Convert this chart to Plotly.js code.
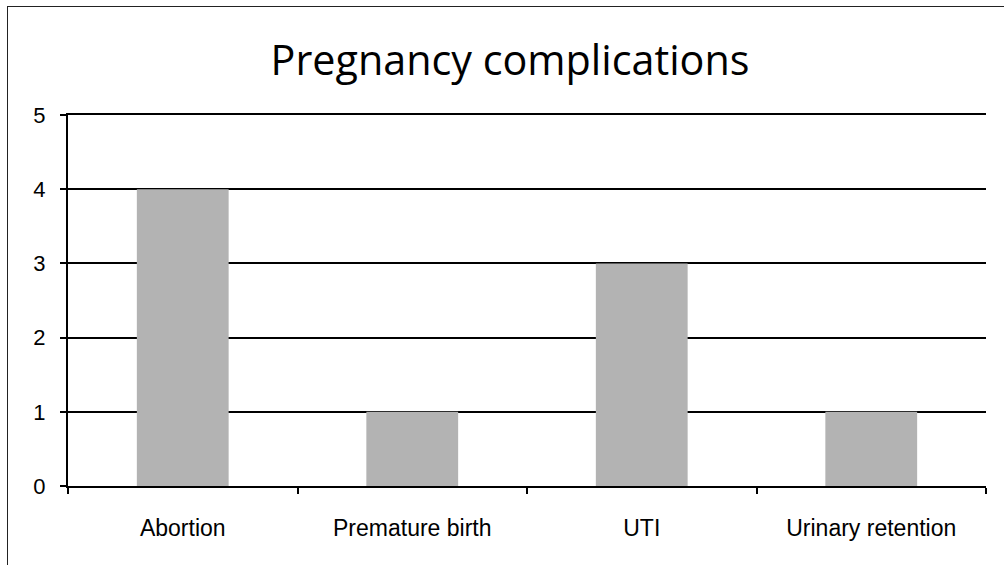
<!DOCTYPE html>
<html>
<head>
<meta charset="utf-8">
<script src="https://cdn.plot.ly/plotly-3.0.1.min.js"></script>
<style>
  html, body { margin: 0; padding: 0; background: #fff; }
  #wrap { position: relative; width: 1004px; height: 565px; overflow: hidden; }
  #chart { width: 1004px; height: 565px; }
  #frame { position: absolute; left: 7px; top: 6px; width: 1100px; height: 700px;
           border-left: 1.5px solid #222; border-top: 1.5px solid #222; pointer-events: none; }
</style>
</head>
<body>
<div id="wrap">
  <div id="chart"></div>
  <div id="frame"></div>
</div>
<script>
const categories = ["Abortion", "Premature birth", "UTI", "Urinary retention"];
const counts = [4, 1, 3, 1];
const yTicks = [0, 1, 2, 3, 4, 5];

const trace = {
  type: "bar",
  x: categories,
  y: counts,
  marker: { color: "#b3b3b3", line: { width: 0 } },
  hoverinfo: "x+y"
};

const layout = {
  width: 1004,
  height: 565,
  paper_bgcolor: "#ffffff",
  plot_bgcolor: "#ffffff",
  margin: { l: 68, r: 18, t: 115, b: 79 },
  bargap: 0.6,
  showlegend: false,
  title: {
    text: "Pregnancy complications",
    font: { family: "Open Sans, Noto Sans, sans-serif", size: 41.3, color: "#000" },
    x: 0.508, xref: "container", xanchor: "center",
    y: 0.892, yref: "container", yanchor: "middle"
  },
  xaxis: {
    type: "category",
    tickson: "boundaries",
    ticks: "outside",
    ticklen: 6,
    tickwidth: 2,
    tickcolor: "#000",
    showline: true,
    mirror: true,
    linecolor: "#000",
    linewidth: 2,
    showgrid: false,
    zeroline: false,
    ticklabelstandoff: 20,
    tickfont: { family: "Liberation Sans, Arial, sans-serif", size: 23, color: "#000" }
  },
  yaxis: {
    range: [0, 5],
    tickvals: yTicks,
    ticks: "outside",
    ticklen: 6,
    tickwidth: 2,
    tickcolor: "#000",
    showline: true,
    linecolor: "#000",
    linewidth: 2,
    showgrid: true,
    gridcolor: "#000",
    gridwidth: 2,
    zeroline: false,
    ticklabelstandoff: 10,
    tickfont: { family: "Liberation Sans, Arial, sans-serif", size: 22, color: "#000" }
  }
};

Plotly.newPlot("chart", [trace], layout, { displayModeBar: false, staticPlot: true });
</script>
</body>
</html>
